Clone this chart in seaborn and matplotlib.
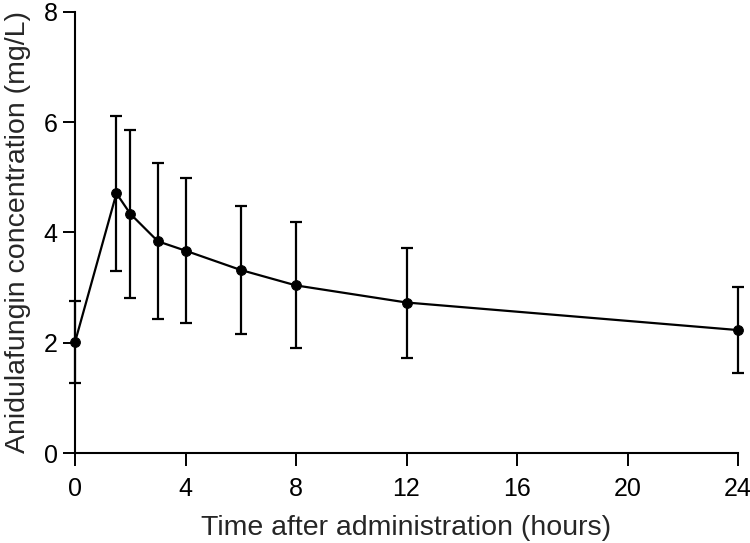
import matplotlib
matplotlib.use("Agg")
import matplotlib.pyplot as plt
import seaborn as sns
import pandas as pd

time_h = [0, 1.5, 2, 3, 4, 6, 8, 12, 24]
mean_conc = [2.01, 4.71, 4.34, 3.84, 3.67, 3.32, 3.04, 2.73, 2.23]
upper_err = [2.75, 6.12, 5.86, 5.26, 4.99, 4.48, 4.19, 3.72, 3.01]
lower_err = [1.27, 3.30, 2.82, 2.43, 2.35, 2.16, 1.91, 1.73, 1.45]
x_ticks = [0, 4, 8, 12, 16, 20, 24]
y_ticks = [0, 2, 4, 6, 8]

sns.set_style("ticks")
plt.rcParams['font.family'] = ['Liberation Sans', 'DejaVu Sans']

df = pd.DataFrame({"time": time_h, "conc": mean_conc, "hi": upper_err, "lo": lower_err})

fig = plt.figure(figsize=(7.5, 5.43), dpi=100)
ax = fig.add_axes([0.1, 0.1657, 0.884, 0.8123])

yerr = [df["conc"] - df["lo"], df["hi"] - df["conc"]]
ax.errorbar(df["time"], df["conc"], yerr=yerr, fmt="none", ecolor="black",
            elinewidth=1.6, capsize=4, capthick=1.6, clip_on=False, zorder=2)
sns.lineplot(data=df, x="time", y="conc", ax=ax, color="black", linewidth=1.6,
             marker="o", markersize=7, markeredgecolor="black",
             markerfacecolor="black", clip_on=False, zorder=3)

ax.set_xlim(0, 24)
ax.set_ylim(0, 8)
ax.set_xticks(x_ticks)
ax.set_yticks(y_ticks)
ax.tick_params(axis="both", labelsize=18, length=9, width=1.4, colors="black")
ax.tick_params(axis="x", pad=8)
ax.tick_params(axis="y", pad=3.5)
for s in ["left", "bottom"]:
    ax.spines[s].set_linewidth(1.5)
    ax.spines[s].set_color("black")
sns.despine(ax=ax)
ax.set_xlabel("Time after administration (hours)", fontsize=20.5, labelpad=10)
ax.set_ylabel("Anidulafungin concentration (mg/L)", fontsize=20.5, labelpad=9)

fig.savefig("out.png", dpi=100)
